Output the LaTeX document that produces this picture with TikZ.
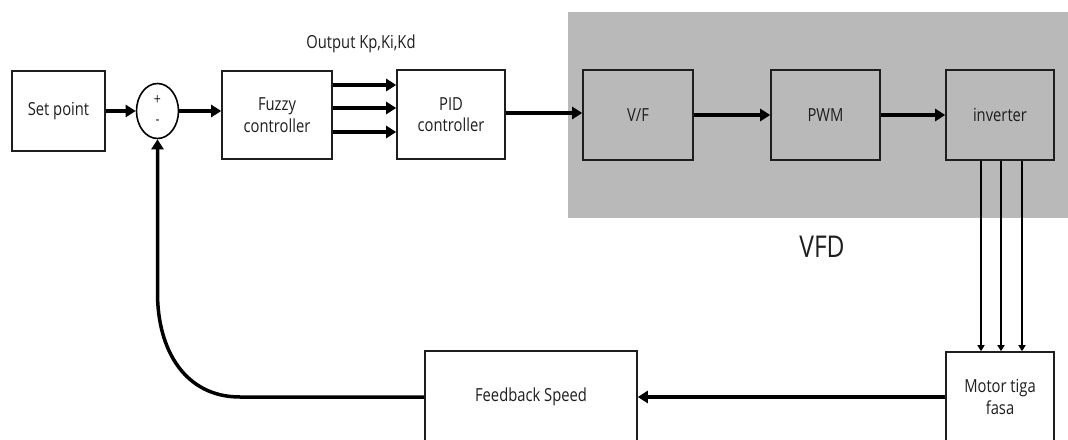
\documentclass[tikz,border=0pt]{standalone}
\usepackage{fontspec}
\newfontfamily\lbl[FakeStretch=0.82]{Open Sans}
\usetikzlibrary{arrows.meta,shapes.geometric}
\definecolor{vfdgray}{HTML}{B9B9B9}
\definecolor{ink}{HTML}{1E1E1E}
\begin{document}
\begin{tikzpicture}[x=1pt,y=-1pt,
  blk/.style={draw=ink,line width=1.6pt,inner sep=0pt,align=center,
    font=\lbl\fontsize{18}{21.5}\selectfont,text=ink},
  wblk/.style={blk,fill=white},
  conn/.style={line width=3.5pt,-{Triangle[length=10pt,width=12pt]}},
  thinarrow/.style={line width=1.6pt,-{Triangle[length=6pt,width=7pt]}},
  lab/.style={font=\lbl\fontsize{18}{21.5}\selectfont,text=ink,inner sep=0pt},
  sign/.style={text=ink,inner sep=0pt,font=\lbl\fontsize{15}{16}\selectfont}]
\useasboundingbox (0,0) rectangle (1068,439);
\clip (0,0) rectangle (1068,439);
\fill[vfdgray] (568,12) rectangle (1070,218);

% blocks
\node[wblk,minimum width=93,minimum height=80] (sp) at (58.5,111) {Set point};
\node[draw=black,line width=1.6pt,ellipse,minimum width=42,minimum height=55,inner sep=0pt,fill=white] (sum) at (157.5,111) {};
\node[sign] (plus) at (157.5,100) {+};
\node[sign] (minus) at (157.5,122) {-};
\node[wblk,minimum width=110,minimum height=88] (fz) at (277,115) {Fuzzy\\controller};
\node[wblk,minimum width=108,minimum height=89] (pid) at (451,114.5) {PID\\controller};
\node[blk,minimum width=110,minimum height=90] (vf) at (638,115) {V/F};
\node[blk,minimum width=109,minimum height=90] (pwm) at (825.5,115) {PWM};
\node[blk,minimum width=108,minimum height=90] (inv) at (1000,115) {inverter};
\node[wblk,minimum width=108,minimum height=90] (mot) at (1000,397) {Motor tiga\\fasa};
\node[wblk,minimum width=212,minimum height=92] (fb) at (531,397) {Feedback Speed};

% labels
\node[lab] (out) at (361,44) {Output Kp,Ki,Kd};
\node[lab,font=\lbl\fontsize{30}{36}\selectfont] (vfd) at (822,247) {VFD};

% helper coordinates
\coordinate (y85) at (0,85);
\coordinate (y108) at (0,108);
\coordinate (y132) at (0,132);
\coordinate (y113) at (0,113);
\coordinate (x981) at (981,0);
\coordinate (x1001) at (1001,0);
\coordinate (x1022) at (1022,0);
\coordinate (c1) at (240,397);
\coordinate (y350) at (0,350);
\coordinate (y293) at (0,293);

% connectors
\draw[conn] (sp.east) -- (sum.west);
\draw[conn] (sum.east) -- (fz.west |- sum.east);
\draw[conn] (fz.east |- y85) -- (pid.west |- y85);
\draw[conn] (fz.east |- y108) -- (pid.west |- y108);
\draw[conn] (fz.east |- y132) -- (pid.west |- y132);
\draw[conn] (pid.east |- y113) -- (vf.west |- y113);
\draw[conn] (vf.east) -- (pwm.west);
\draw[conn] (pwm.east) -- (inv.west);
\draw[thinarrow] (inv.south -| x981) -- (mot.north -| x981);
\draw[thinarrow] (inv.south -| x1001) -- (mot.north -| x1001);
\draw[thinarrow] (inv.south -| x1022) -- (mot.north -| x1022);
\draw[conn] (mot.west) -- (fb.east);
\draw[conn] (fb.west) -- (c1) .. controls (185,397) and (sum.south |- y350) .. (sum.south |- y293) -- (sum.south);
\end{tikzpicture}
\end{document}
